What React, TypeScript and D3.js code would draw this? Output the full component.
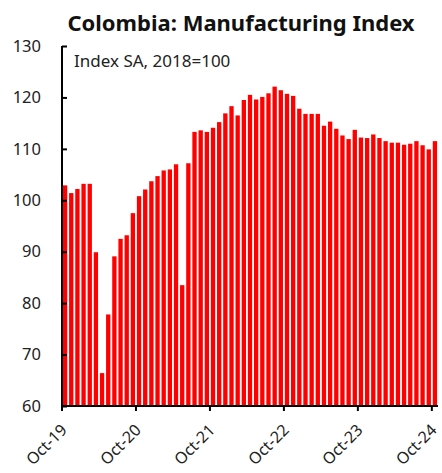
import React, { useEffect, useRef } from 'react';
import * as d3 from 'd3';

// monthly index values, Oct-19 .. Oct-24
const startMonth = new Date(2019, 9, 1);
const values = [
  102.9, 101.4, 102.2, 103.2, 103.2, 89.9, 66.4, 77.8, 89.1, 92.5, 93.2, 97.5,
  100.8, 102.1, 103.7, 104.7, 105.8, 106.0, 107.0, 83.5, 107.2, 113.3, 113.6, 113.3,
  114.1, 115.2, 116.9, 118.3, 116.5, 119.5, 120.5, 119.6, 120.1, 120.8, 122.1, 121.4,
  120.7, 120.3, 117.8, 116.8, 116.8, 116.8, 114.5, 115.3, 113.9, 112.6, 111.9, 113.7,
  112.2, 112.1, 112.8, 112.1, 111.5, 111.2, 111.2, 110.8, 111.0, 111.5, 110.7, 109.9,
  111.5,
];
const yTicks = [60, 70, 80, 90, 100, 110, 120, 130];
const xTickLabels = ['Oct-19', 'Oct-20', 'Oct-21', 'Oct-22', 'Oct-23', 'Oct-24'];

const title = 'Colombia: Manufacturing Index';
const subtitle = 'Index SA, 2018=100';

const W = 442;
const H = 473;
const FONT = '"Noto Sans", sans-serif';

const App: React.FC = () => {
  const svgRef = useRef<SVGSVGElement>(null);

  useEffect(() => {
    if (!svgRef.current) return;
    const svg = d3.select(svgRef.current);
    svg.selectAll('*').remove();

    const margin = { top: 46, right: 4, bottom: 67, left: 62 };
    const months = values.map((_, i) => d3.timeMonth.offset(startMonth, i));
    const fmt = d3.timeFormat('%b-%y');
    const labels = months.map(m => fmt(m));

    const x = d3.scaleBand<string>()
      .domain(labels)
      .range([margin.left, W - margin.right])
      .paddingInner(0.3)
      .paddingOuter(0.15);

    const y = d3.scaleLinear()
      .domain([60, 130])
      .range([H - margin.bottom, margin.top]);

    // title
    svg.append('text')
      .attr('x', 241)
      .attr('y', 31)
      .attr('text-anchor', 'middle')
      .style('font-family', FONT)
      .style('font-size', '22px')
      .style('font-weight', '700')
      .style('fill', '#111')
      .text(title);

    // bars
    svg.append('g')
      .selectAll('rect')
      .data(values)
      .enter().append('rect')
      .attr('x', (_, i) => x(labels[i])!)
      .attr('width', x.bandwidth())
      .attr('y', d => y(d))
      .attr('height', d => y(60) - y(d))
      .attr('fill', '#ff0000');

    // y axis (ticks inside)
    const yAxis = svg.append('g')
      .attr('transform', `translate(${margin.left},0)`)
      .call(d3.axisRight(y).tickValues(yTicks).tickSize(5).tickFormat(() => ''));
    yAxis.select('.domain').attr('stroke', '#000').attr('stroke-width', 2).attr('d', `M0,${y(130)}V${y(60)}`);
    yAxis.selectAll('.tick line').attr('stroke', '#000').attr('stroke-width', 2);

    svg.append('g')
      .selectAll('text')
      .data(yTicks)
      .enter().append('text')
      .attr('x', 41)
      .attr('y', d => y(d))
      .attr('dy', '0.35em')
      .attr('text-anchor', 'end')
      .style('font-family', FONT)
      .style('font-size', '16.5px')
      .style('fill', '#222')
      .text(d => d);

    // x axis
    const step = x.step();
    const tickPos = (lbl: string) => x(lbl)! - (step * 0.3) / 2;
    const xAxis = svg.append('g');
    xAxis.append('line')
      .attr('x1', margin.left - 1)
      .attr('x2', W - margin.right)
      .attr('y1', y(60))
      .attr('y2', y(60))
      .attr('stroke', '#000')
      .attr('stroke-width', 2);
    xAxis.selectAll('line.tk')
      .data(xTickLabels)
      .enter().append('line')
      .attr('class', 'tk')
      .attr('x1', d => tickPos(d))
      .attr('x2', d => tickPos(d))
      .attr('y1', y(60))
      .attr('y2', y(60) + 5)
      .attr('stroke', '#000')
      .attr('stroke-width', 2);
    xAxis.selectAll('text')
      .data(xTickLabels)
      .enter().append('text')
      .attr('transform', d => `translate(${tickPos(d) + 2},${y(60) + 21}) rotate(-45)`)
      .attr('text-anchor', 'end')
      .attr('dy', '0.35em')
      .style('font-family', FONT)
      .style('font-size', '16px')
      .style('fill', '#222')
      .text(d => d);

    // subtitle
    svg.append('text')
      .attr('x', 74)
      .attr('y', 67)
      .style('font-family', FONT)
      .style('font-size', '17px')
      .style('fill', '#222')
      .text(subtitle);
  }, []);

  return (
    <svg
      ref={svgRef}
      width={W}
      height={H}
      style={{ position: 'absolute', left: 0, top: 0, background: '#fff' }}
    />
  );
};

export default App;
